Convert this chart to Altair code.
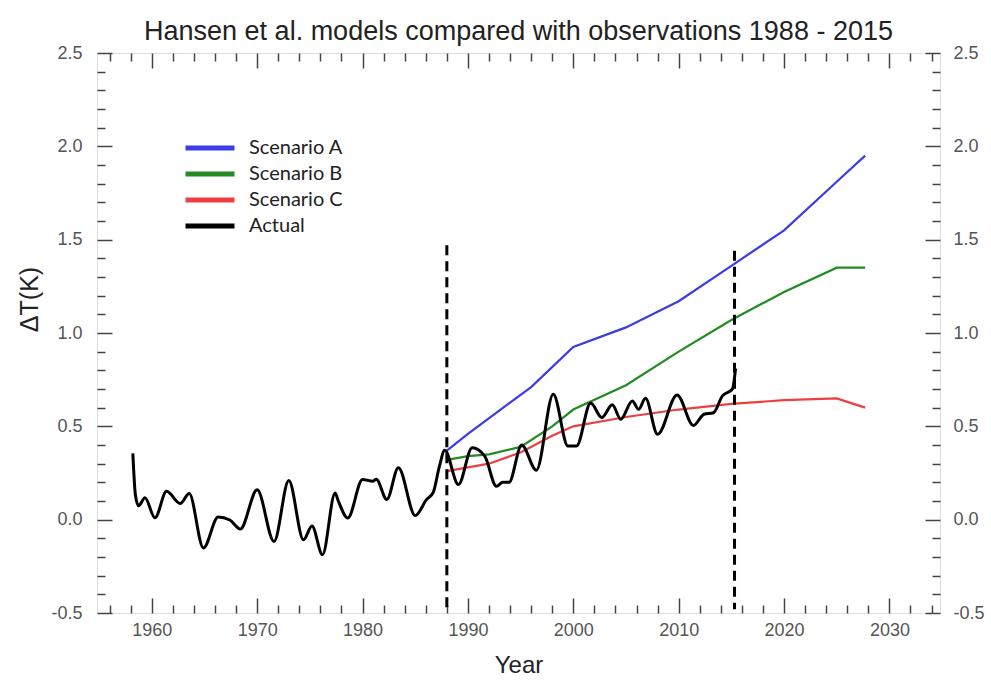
import altair as alt
import pandas as pd

# ---- data -------------------------------------------------------------
series_names = ["Scenario A", "Scenario B", "Scenario C", "Actual"]
series_colors = ["#3c3ce6", "#238b23", "#ec4040", "#000000"]

# Model projections (temperature change, K)
scen_a_years = [1988, 1990, 1996, 2000, 2005, 2010, 2015, 2020, 2025, 2027.7]
scen_a_vals = [0.37, 0.46, 0.71, 0.925, 1.03, 1.17, 1.36, 1.55, 1.81, 1.95]

scen_bc_years = [1988, 1990, 1992, 1995, 1998, 2000, 2005, 2010, 2015, 2020, 2025, 2027.7]
scen_b_vals = [0.32, 0.34, 0.35, 0.39, 0.50, 0.59, 0.72, 0.90, 1.07, 1.22, 1.35, 1.35]
scen_c_vals = [0.26, 0.28, 0.30, 0.36, 0.45, 0.50, 0.55, 0.59, 0.62, 0.64, 0.65, 0.60]

# Observed (smoothed) temperature change
actual_years = [
    1958.2, 1958.45, 1958.75, 1959.35, 1960.3, 1961.4, 1962.7, 1963.55, 1964.9,
    1966.3, 1967.4, 1968.4, 1970.0, 1971.6, 1973.0, 1974.4, 1975.2, 1976.2,
    1977.4, 1977.7, 1978.6, 1980.0, 1981.0, 1981.3, 1982.3, 1983.4, 1985.0,
    1986.1, 1986.7, 1987.3, 1987.8, 1989.1, 1990.4, 1991.6, 1992.7, 1993.3,
    1993.9, 1995.1, 1996.5, 1998.1, 1999.5, 2000.3, 2001.65, 2002.7, 2003.7,
    2004.5, 2005.6, 2006.2, 2006.85, 2008.0, 2009.85, 2011.4, 2012.4, 2013.3,
    2014.15, 2015.1, 2015.4,
]
actual_vals = [
    0.355, 0.13, 0.075, 0.117, 0.01, 0.152, 0.086, 0.14, -0.152,
    0.014, -0.002, -0.05, 0.16, -0.117, 0.21, -0.108, -0.034, -0.188,
    0.143, 0.10, 0.009, 0.215, 0.206, 0.217, 0.108, 0.278, 0.022,
    0.11, 0.145, 0.287, 0.372, 0.188, 0.385, 0.34, 0.179, 0.20,
    0.20, 0.40, 0.265, 0.672, 0.394, 0.394, 0.625, 0.547, 0.615,
    0.538, 0.636, 0.591, 0.65, 0.457, 0.668, 0.505, 0.565, 0.573,
    0.663, 0.70, 0.81,
]

# Vertical markers at the start and end of the comparison period
marker_years = [1988.0, 2015.3]
marker_tops = [1.47, 1.44]
marker_bottoms = [-0.48, -0.48]

x_domain = [1954.8, 2034.8]
y_domain = [-0.5, 2.5]
x_tick_values = list(range(1956, 2035, 2))
y_tick_values = [round(-0.5 + 0.1 * i, 1) for i in range(31)]

# ---- tables -----------------------------------------------------------
scen_df = pd.concat([
    pd.DataFrame({"series": "Scenario A", "year": scen_a_years, "dT": scen_a_vals}),
    pd.DataFrame({"series": "Scenario B", "year": scen_bc_years, "dT": scen_b_vals}),
    pd.DataFrame({"series": "Scenario C", "year": scen_bc_years, "dT": scen_c_vals}),
], ignore_index=True)
actual_df = pd.DataFrame({"series": "Actual", "year": actual_years, "dT": actual_vals})
marker_df = pd.DataFrame({"year": marker_years, "top": marker_tops, "bottom": marker_bottoms})

# ---- axes (ticks point inward, major + minor via per-tick size) --------
FONT = "Liberation Sans"
x_major = "datum.value % 10 === 0"
y_major = "abs(datum.value * 2 - round(datum.value * 2)) < 0.001"
x_tick = alt.ExprRef(expr=f"{x_major} ? -15 : -8")
y_tick = alt.ExprRef(expr=f"{y_major} ? -15 : -8")
y_label = f"{y_major} ? replace(datum.label, '\u2212', '-') : ''"

common = dict(domain=False, grid=False, tickColor="#444", tickWidth=1.5,
              labelFont=FONT, labelColor="#555", labelFontSize=18,
              labelFlush=False, labelOverlap=False,
              titleFont=FONT, titleColor="#222", titleFontWeight="normal")

x_bottom = alt.Axis(orient="bottom", values=x_tick_values, tickSize=x_tick,
                    labelExpr=f"{x_major} ? datum.label : ''", format="d",
                    labelPadding=23, title="Year", titleFontSize=24,
                    titlePadding=7, **common)
x_top = alt.Axis(orient="top", values=x_tick_values, tickSize=x_tick,
                 labels=False, title=None, minExtent=0, maxExtent=0, **common)
y_left = alt.Axis(orient="left", values=y_tick_values, tickSize=y_tick,
                  labelExpr=y_label, format=".1f", labelPadding=30,
                  title="ΔT(K)", titleFontSize=25, titleX=-68, titleY=246,
                  titleBaseline="middle", **common)
y_right = alt.Axis(orient="right", values=y_tick_values, tickSize=y_tick,
                   labelExpr=y_label, format=".1f", labelPadding=28,
                   title=None, **common)

x_scale = alt.Scale(domain=x_domain, nice=False, zero=False)
y_scale = alt.Scale(domain=y_domain, nice=False, zero=False)
color_scale = alt.Scale(domain=series_names, range=series_colors)
legend = alt.Legend(orient="none", legendX=86, legendY=85, title=None,
                    symbolType="stroke", symbolSize=2400, symbolStrokeWidth=5,
                    clipHeight=20, rowPadding=6, labelOffset=12,
                    labelFont="Lato", labelFontSize=20, labelColor="#222",
                    padding=0)

# ---- layers -----------------------------------------------------------
scenarios = alt.Chart(scen_df).mark_line(strokeWidth=2.2).encode(
    x=alt.X("year:Q", scale=x_scale, axis=x_bottom),
    y=alt.Y("dT:Q", scale=y_scale, axis=y_left),
    color=alt.Color("series:N", scale=color_scale, legend=legend),
    detail="series:N",
)

actual = alt.Chart(actual_df).mark_line(strokeWidth=3, interpolate="monotone").encode(
    x=alt.X("year:Q", scale=x_scale, axis=x_top),
    y=alt.Y("dT:Q", scale=y_scale, axis=y_right),
    color=alt.Color("series:N", scale=color_scale, legend=legend),
)

markers = alt.Chart(marker_df).mark_rule(
    color="black", strokeWidth=3, strokeDash=[10, 6]
).encode(
    x=alt.X("year:Q", scale=x_scale, axis=None),
    y=alt.Y("top:Q", scale=y_scale, axis=None),
    y2="bottom:Q",
)

chart = alt.layer(scenarios, actual, markers).resolve_axis(
    x="independent", y="independent"
).properties(
    width=843,
    height=560,
    padding={"left": 97, "top": 53, "right": 51, "bottom": 69},
    autosize=alt.AutoSizeParams(type="none"),
    title=alt.TitleParams(
        "Hansen et al. models compared with observations 1988 - 2015",
        font=FONT, fontSize=27, fontWeight="normal", color="#222",
        anchor="middle", offset=14, baseline="alphabetic", dy=37,
    ),
).configure_view(stroke="#444", strokeWidth=1.5).configure(background="white")

chart.save("out.html", embed_options={"renderer": "svg", "actions": False})
